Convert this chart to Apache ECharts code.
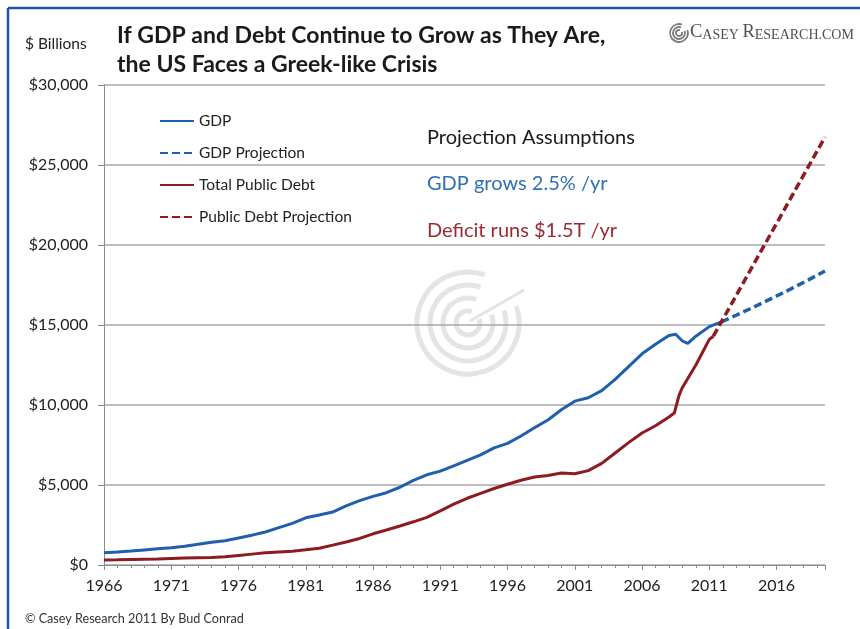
<!DOCTYPE html>
<html>
<head>
<meta charset="utf-8">
<script src="https://cdn.jsdelivr.net/npm/echarts@6/dist/echarts.min.js"></script>
<style>
  html, body { margin: 0; padding: 0; background: #ffffff; }
  #chart { width: 860px; height: 629px; }
</style>
</head>
<body>
<div id="chart"></div>
<script>
// Year offsets on the x axis are measured from this first year
const BASE_YEAR = 1966;

// Nominal GDP, $ billions
const gdpYears = [1966, 1967, 1968, 1969, 1970, 1971, 1972, 1973, 1974, 1975, 1976, 1977, 1978, 1979, 1980,
  1981, 1982, 1983, 1984, 1985, 1986, 1987, 1988, 1989, 1990, 1991, 1992, 1993, 1994, 1995, 1996, 1997,
  1998, 1999, 2000, 2001, 2002, 2003, 2004, 2005, 2006, 2007, 2008, 2008.5, 2009, 2009.4, 2010, 2011, 2011.9];
const gdpValues = [772, 817, 870, 940, 1010, 1080, 1175, 1300, 1420, 1515, 1690, 1865, 2060, 2340, 2600,
  2950, 3130, 3310, 3700, 4020, 4290, 4520, 4860, 5290, 5640, 5870, 6190, 6540, 6880, 7320, 7600, 8060,
  8580, 9060, 9700, 10240, 10450, 10900, 11600, 12400, 13200, 13800, 14350, 14420, 14000, 13850, 14300, 14900, 15200];

// GDP projection at 2.5% per year
const gdpProjYears = [2011.9, 2013, 2014, 2015, 2016, 2017, 2018, 2019, 2019.6];
const gdpProjValues = [15200, 15610, 16000, 16400, 16810, 17230, 17660, 18100, 18370];

// Total public debt, $ billions
const debtYears = [1966, 1967, 1968, 1969, 1970, 1971, 1972, 1973, 1974, 1975, 1976, 1977, 1978, 1979, 1980,
  1981, 1982, 1983, 1984, 1985, 1986, 1987, 1988, 1989, 1990, 1991, 1992, 1993, 1994, 1995, 1996, 1997,
  1998, 1999, 2000, 2001, 2002, 2003, 2004, 2005, 2006, 2007, 2008, 2008.4, 2008.75, 2009, 2009.5, 2010,
  2010.5, 2011, 2011.3];
const debtValues = [320, 330, 345, 360, 370, 400, 430, 460, 475, 510, 600, 680, 760, 820, 860,
  950, 1050, 1240, 1440, 1660, 1950, 2190, 2440, 2700, 2980, 3380, 3800, 4170, 4480, 4780, 5050, 5300,
  5500, 5600, 5750, 5700, 5900, 6350, 7000, 7650, 8250, 8700, 9250, 9500, 10600, 11100, 11800, 12500,
  13300, 14100, 14300];

// Public debt projection with a $1.5T yearly deficit
const debtProjYears = [2011.3, 2012, 2013, 2014, 2015, 2016, 2017, 2018, 2019, 2019.6];
const debtProjValues = [14300, 15350, 16850, 18350, 19850, 21350, 22850, 24350, 25850, 26750];

const seriesNames = ['GDP', 'GDP Projection', 'Total Public Debt', 'Public Debt Projection'];

const BLUE = '#1f5fad';
const RED = '#8e1b22';
const FONT = 'Lato, "Open Sans", sans-serif';

function pairs(years, values) {
  return years.map((y, i) => [y - BASE_YEAR, values[i]]);
}

function lineSeries(name, data, color, dashed, z) {
  return {
    name: name,
    type: 'line',
    data: data,
    symbol: 'none',
    z: z,
    lineStyle: { color: color, width: dashed ? 3.5 : 3, type: dashed ? [8, 4] : 'solid' },
    itemStyle: { color: color },
    emphasis: { disabled: true },
    silent: true
  };
}

// Concentric open rings used for the spiral marks
function rings(cx, cy, radii, color, width) {
  const gap = 0.45;
  return radii.map(r => ({
    type: 'arc',
    silent: true,
    shape: { cx: cx, cy: cy, r: r, startAngle: -Math.PI / 4 + gap, endAngle: -Math.PI / 4 - gap + Math.PI * 2, clockwise: true },
    style: { stroke: color, lineWidth: width, fill: null }
  }));
}

const chart = echarts.init(document.getElementById('chart'), null, { renderer: 'canvas' });

const option = {
  backgroundColor: '#ffffff',
  animation: false,
  title: {
    text: 'If GDP and Debt Continue to Grow as They Are,\nthe US Faces a Greek-like Crisis',
    left: 117,
    top: 21,
    padding: 0,
    textStyle: { fontFamily: FONT, fontWeight: 'bold', fontSize: 23, lineHeight: 29, color: '#1a1a1a' }
  },
  legend: {
    orient: 'vertical',
    left: 159,
    top: 113,
    padding: 0,
    itemWidth: 34,
    itemHeight: 14,
    itemGap: 16,
    itemStyle: { opacity: 0 },
    textStyle: { fontFamily: FONT, fontSize: 15.5, color: '#222222' },
    data: seriesNames
  },
  grid: { left: 104, right: 35, top: 85, bottom: 64, containLabel: false },
  xAxis: {
    type: 'value',
    min: 0,
    max: 53.6,
    interval: 5,
    axisLine: { show: true, lineStyle: { color: '#8c8c8c', width: 1 } },
    axisTick: { show: true, length: 5, lineStyle: { color: '#8c8c8c' } },
    minorTick: { show: true, splitNumber: 5, length: 3, lineStyle: { color: '#8c8c8c' } },
    splitLine: { show: false },
    axisLabel: {
      fontFamily: FONT, fontSize: 16, color: '#222222', margin: 13,
      formatter: v => (Math.abs(v % 5) < 1e-6 ? String(BASE_YEAR + v) : '')
    }
  },
  yAxis: {
    type: 'value',
    min: 0,
    max: 30000,
    interval: 5000,
    axisLine: { show: true, lineStyle: { color: '#8c8c8c', width: 1 } },
    axisTick: { show: true, length: 6, lineStyle: { color: '#8c8c8c' } },
    splitLine: { show: true, lineStyle: { color: '#a9a9a9', width: 1.5 } },
    axisLabel: {
      fontFamily: FONT, fontSize: 16, color: '#222222', margin: 16,
      formatter: v => '$' + v.toLocaleString('en-US')
    }
  },
  series: [
    lineSeries(seriesNames[0], pairs(gdpYears, gdpValues), BLUE, false, 3),
    lineSeries(seriesNames[1], pairs(gdpProjYears, gdpProjValues), BLUE, true, 2),
    lineSeries(seriesNames[2], pairs(debtYears, debtValues), RED, false, 3),
    lineSeries(seriesNames[3], pairs(debtProjYears, debtProjValues), RED, true, 4)
  ],
  graphic: [
    // frame edges
    { type: 'line', silent: true, shape: { x1: 8, y1: 8, x2: 860, y2: 8 }, style: { stroke: '#1d55a3', lineWidth: 2.5 } },
    { type: 'line', silent: true, shape: { x1: 8, y1: 8, x2: 8, y2: 629 }, style: { stroke: '#1d55a3', lineWidth: 2.5 } },
    // watermark spiral
    ...rings(468, 323, [51, 38, 25, 12], '#e4e4e4', 5),
    { type: 'line', silent: true, shape: { x1: 470, y1: 321, x2: 524, y2: 290 }, style: { stroke: '#e4e4e4', lineWidth: 3 } },
    // logo mark
    ...rings(679, 33, [9, 6, 3], '#7a7a7a', 1.8),
    {
      type: 'text', silent: true, left: 690, top: 23,
      style: {
        text: '{b|C}{s|ASEY }{b|R}{s|ESEARCH.COM}',
        rich: {
          b: { fontFamily: '"Liberation Serif", serif', fontSize: 18.5, fill: '#505050' },
          s: { fontFamily: '"Liberation Serif", serif', fontSize: 14, fill: '#505050', verticalAlign: 'bottom' }
        }
      }
    },
    {
      type: 'text', silent: true, left: 25, top: 36,
      style: { text: '$ Billions', fontFamily: FONT, fontSize: 15.5, fill: '#222222' }
    },
    {
      type: 'text', silent: true, left: 427, top: 128,
      style: { text: 'Projection Assumptions', fontFamily: FONT, fontSize: 20, fill: '#1a1a1a' }
    },
    {
      type: 'text', silent: true, left: 427, top: 174,
      style: { text: 'GDP grows 2.5% /yr', fontFamily: FONT, fontSize: 20, fill: '#2e6fb5' }
    },
    {
      type: 'text', silent: true, left: 427, top: 221,
      style: { text: 'Deficit runs $1.5T /yr', fontFamily: FONT, fontSize: 20, fill: '#9b2a30' }
    },
    {
      type: 'text', silent: true, left: 25, top: 612,
      style: { text: '\u00A9 Casey Research 2011 By Bud Conrad', fontFamily: FONT, fontSize: 12.6, fill: '#333333' }
    }
  ]
};

chart.setOption(option);
</script>
</body>
</html>
